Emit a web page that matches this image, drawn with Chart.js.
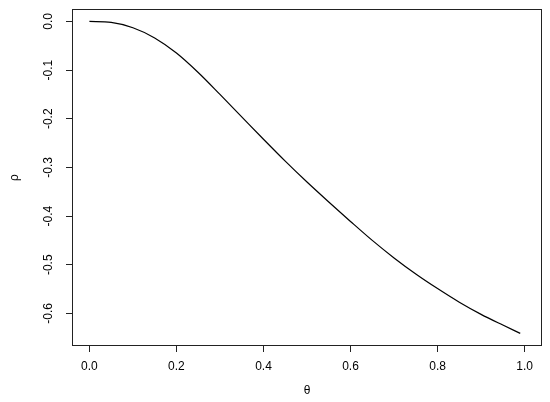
<!DOCTYPE html>
<html>
<head>
<meta charset="utf-8">
<script src="https://cdn.jsdelivr.net/npm/chart.js@4.4.1/dist/chart.umd.min.js"></script>
<style>
  html, body { margin: 0; padding: 0; background: #fff; }
  canvas { display: block; }
</style>
</head>
<body>
<canvas id="rhoChart" width="550" height="402"></canvas>
<script>
// valeurs
const theta = [0, 0.05, 0.10, 0.15, 0.20, 0.25, 0.30, 0.35, 0.40, 0.45, 0.50,
               0.55, 0.60, 0.65, 0.70, 0.75, 0.80, 0.85, 0.90, 0.95, 0.99];
const rho = [0, -0.002, -0.013, -0.034, -0.065, -0.105, -0.150, -0.196, -0.242, -0.287, -0.330,
             -0.371, -0.411, -0.450, -0.486, -0.519, -0.549, -0.577, -0.602, -0.624, -0.641];
const xTicks = [0, 0.2, 0.4, 0.6, 0.8, 1.0];
const yTicks = [0, -0.1, -0.2, -0.3, -0.4, -0.5, -0.6];

const fontFamily = '"Liberation Sans", Arial, Helvetica, sans-serif';

// cadre + etiquettes verticales de l'axe y (style R)
const rStyle = {
    id: 'rStyle',
    afterDraw(chart) {
        const ctx = chart.ctx;
        const a = chart.chartArea;
        ctx.save();
        ctx.strokeStyle = '#222';
        ctx.lineWidth = 1;
        ctx.strokeRect(Math.round(a.left) + 0.5, Math.round(a.top) + 0.5,
                       Math.round(a.right - a.left) - 1, Math.round(a.bottom - a.top) - 1);

        const y = chart.scales.y;
        ctx.fillStyle = '#000';
        ctx.font = '12px ' + fontFamily;
        ctx.textAlign = 'center';
        ctx.textBaseline = 'middle';
        yTicks.forEach(v => {
            ctx.save();
            ctx.translate(49, y.getPixelForValue(v));
            ctx.rotate(-Math.PI / 2);
            ctx.fillText(v.toFixed(1), 0, 0);
            ctx.restore();
        });
        ctx.restore();
    }
};

const ctx = document.getElementById('rhoChart').getContext('2d');
const rhoChart = new Chart(ctx, {
    type: 'scatter',
    data: {
        datasets: [{
            data: theta.map((t, i) => ({ x: t, y: rho[i] })),
            showLine: true,
            borderColor: '#000',
            borderWidth: 1.2,
            pointRadius: 0,
            cubicInterpolationMode: 'monotone'
        }]
    },
    options: {
        responsive: false,
        animation: false,
        layout: { padding: { top: 9, right: 8, left: 0, bottom: 0 } },
        plugins: {
            legend: { display: false },
            tooltip: { enabled: false }
        },
        scales: {
            x: {
                type: 'linear',
                min: -0.04,
                max: 1.04,
                afterBuildTicks: s => { s.ticks = xTicks.map(v => ({ value: v })); },
                afterFit: s => { s.height = 56; },
                ticks: {
                    callback: v => Number(v).toFixed(1),
                    color: '#000',
                    font: { family: fontFamily, size: 12 },
                    padding: 7,
                    maxRotation: 0,
                    autoSkip: false
                },
                grid: {
                    drawOnChartArea: false,
                    drawTicks: true,
                    tickLength: 6,
                    color: '#222'
                },
                border: { display: false },
                title: {
                    display: true,
                    text: 'θ',
                    color: '#000',
                    font: { family: fontFamily, size: 12 },
                    padding: { top: 0, bottom: 4 }
                }
            },
            y: {
                type: 'linear',
                min: -0.667,
                max: 0.0256,
                afterBuildTicks: s => { s.ticks = yTicks.map(v => ({ value: v })); },
                afterFit: s => { s.width = 72; },
                ticks: { display: false },
                grid: {
                    drawOnChartArea: false,
                    drawTicks: true,
                    tickLength: 6,
                    color: '#222'
                },
                border: { display: false },
                title: {
                    display: true,
                    text: 'ρ',
                    color: '#000',
                    font: { family: fontFamily, size: 12 },
                    padding: { top: 7, bottom: 0 }
                }
            }
        }
    },
    plugins: [rStyle]
});
</script>
</body>
</html>
